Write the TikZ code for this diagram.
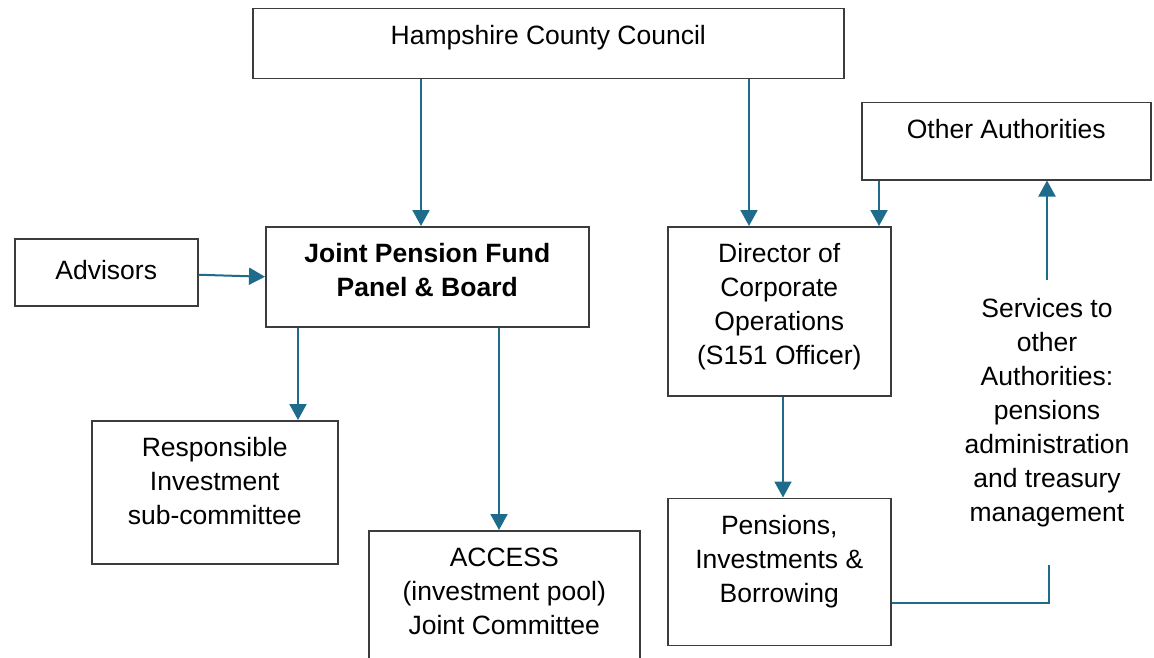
\documentclass[tikz,border=0pt]{standalone}
\usepackage{fontspec}
\setmainfont{Liberation Sans}
\usetikzlibrary{arrows.meta,positioning}

\definecolor{linkblue}{HTML}{1F6B8C}
\definecolor{boxgrey}{HTML}{3C3C3C}

% top aligned text inside a box of fixed size
\newcommand{\panel}[4][12pt]{\parbox[c][#3][t]{#2}{\centering\vspace*{#1}\strut #4\par}}

\tikzset{
	unit/.style={draw=boxgrey, line width=1.5pt, inner sep=0pt, anchor=north west, fill=white},
	flow/.style={draw=linkblue, line width=2pt, -{Triangle[width=17pt,length=16pt]}},
	link/.style={draw=linkblue, line width=2pt},
}

\begin{document}
\begin{tikzpicture}[x=1pt, y=-1pt, font=\fontsize{26.5}{34}\selectfont]
	\useasboundingbox (0,0) rectangle (1154,658);

	\node [unit] (hcc) at (252,8) {\panel{591pt}{70pt}{Hampshire County Council}};
	\node [unit] (others) at (861,102) {\panel{289pt}{77pt}{Other Authorities}};
	\node [unit] (advisors) at (14,238) {\panel[17pt]{183pt}{67pt}{Advisors}};
	\node [unit] (jpf) at (265,226) {\panel{323pt}{100pt}{\bfseries Joint Pension Fund\\ Panel \& Board}};
	\node [unit] (director) at (667,226) {\panel{223pt}{169pt}{Director of\\ Corporate\\ Operations\\ (S151 Officer)}};
	\node [unit] (rsc) at (91,420) {\panel{246pt}{143pt}{Responsible\\ Investment\\ sub-committee}};
	\node [unit] (access) at (368,530) {\panel{271pt}{150pt}{ACCESS\\ (investment pool)\\ Joint Committee}};
	\node [unit, below=101pt of director] (pib) {\panel{223pt}{147pt}{Pensions,\\ Investments \&\\ Borrowing}};

	\node [inner sep=0pt, align=center, anchor=north] (svc) at (1047,293) {\strut Services to\\ other\\ Authorities:\\ pensions\\ administration\\ and treasury\\ management\strut};

	% council lines
	\draw [flow] ([xshift=169pt]hcc.south west) -- ([xshift=156pt]jpf.north west);
	\draw [flow] ([xshift=497pt]hcc.south west) -- ([xshift=82pt]director.north west);
	\draw [flow] ([xshift=18pt]others.south west) -- ([xshift=212pt]director.north west);

	% panel lines
	\draw [flow] ([yshift=-2.5pt]advisors.east) -- (jpf.west);
	\draw [flow] ([xshift=33pt]jpf.south west) -- ([xshift=207pt]rsc.north west);
	\draw [flow] ([xshift=234pt]jpf.south west) -- ([xshift=131pt]access.north west);

	% officer lines
	\draw [flow] ([xshift=116pt]director.south west) -- ([xshift=116pt]pib.north west);
	\draw [link] ([yshift=-31.5pt]pib.east) -| ([xshift=2pt, yshift=-34pt]svc.south);
	\draw [flow] ([yshift=13pt]svc.north) -- (svc.north |- others.south);
\end{tikzpicture}
\end{document}
